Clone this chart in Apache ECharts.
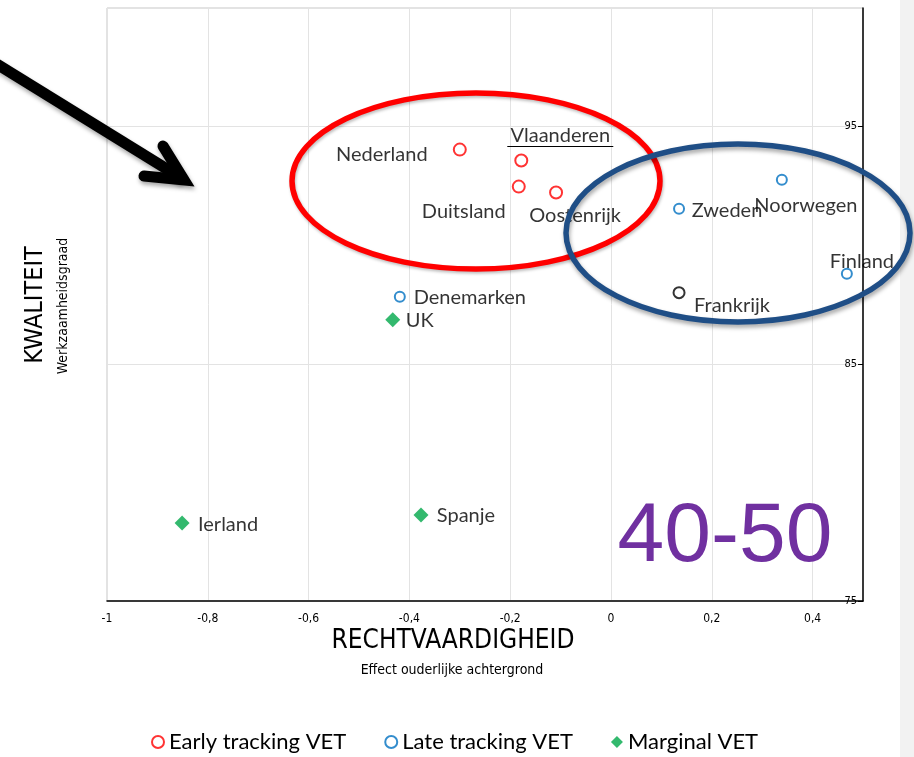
<!DOCTYPE html>
<html><head><meta charset="utf-8">
<script src="https://cdn.jsdelivr.net/npm/echarts@6/dist/echarts.min.js"></script>
<style>html,body{margin:0;padding:0;background:#fff}#c{width:914px;height:757px}</style>
</head><body><div id="c"></div>
<script>
// ---- data ----
const earlyNames = ['Nederland', 'Vlaanderen', 'Duitsland', 'Oostenrijk'];
const earlyX = [-0.30, -0.178, -0.183, -0.109];
const earlyY = [94.03, 93.57, 92.47, 92.22];

const lateNames = ['Zweden', 'Noorwegen', 'Finland', 'Denemarken'];
const lateX = [0.135, 0.339, 0.468, -0.419];
const lateY = [91.54, 92.76, 88.80, 87.83];

const otherNames = ['Frankrijk'];
const otherX = [0.135];
const otherY = [88.0];

const marginalNames = ['UK', 'Ierland', 'Spanje'];
const marginalX = [-0.433, -0.851, -0.377];
const marginalY = [86.86, 78.29, 78.63];

const seriesNames = ['Early tracking VET', 'Late tracking VET', 'Marginal VET'];

// ---- styling (label placement relative to each point) ----
const labelOffsets = {
  Nederland: [-78, 5], Vlaanderen: [39, -25], Duitsland: [-55, 25], Oostenrijk: [19, 23],
  Zweden: [48, 2], Noorwegen: [24, 26], Finland: [15, -12], Denemarken: [70, 1],
  Frankrijk: [53, 13], UK: [27, 1], Ierland: [46, 2], Spanje: [45, 1]
};
const FONT = 'Lato, "Open Sans", sans-serif';
const NARROW = '"Liberation Sans Narrow", "DejaVu Sans Condensed", sans-serif';

function build(names, xs, ys) {
  return names.map((n, i) => ({
    name: n, value: [xs[i], ys[i]],
    label: { offset: labelOffsets[n] }
  }));
}
const baseLabel = {
  show: true, position: 'inside', formatter: p => p.name,
  color: '#000', fontFamily: FONT, fontSize: 20, align: 'center', verticalAlign: 'middle'
};

const chart = echarts.init(document.getElementById('c'), null, { renderer: 'canvas' });
chart.setOption({
  animation: false,
  backgroundColor: '#fff',
  grid: { left: 107, right: 51, top: 8, bottom: 156, show: true, borderColor: '#c6c6c6', borderWidth: 1 },
  xAxis: {
    type: 'value', min: -1, max: 0.5, interval: 0.2,
    axisLine: { show: true, onZero: false, lineStyle: { color: '#000', width: 1.5 } },
    axisTick: { show: false },
    axisLabel: {
      showMaxLabel: false, margin: 12, fontSize: 12, color: '#000', fontFamily: NARROW,
      formatter: v => String(+v.toFixed(1)).replace('.', ',')
    },
    splitLine: { show: true, lineStyle: { color: '#e3e3e3', width: 1 } }
  },
  yAxis: {
    type: 'value', position: 'right', min: 75, max: 100, interval: 10,
    axisLine: { show: true, onZero: false, lineStyle: { color: '#000', width: 1.5 } },
    axisTick: { show: true, inside: true, length: 5, lineStyle: { color: '#000' } },
    axisLabel: { inside: true, showMaxLabel: false, fontSize: 11, color: '#000', fontFamily: NARROW, margin: 6 },
    splitLine: { show: true, lineStyle: { color: '#e3e3e3', width: 1 } }
  },
  legend: {
    data: seriesNames, left: 146, top: 726, itemGap: 38, itemWidth: 12, itemHeight: 12, itemGap2: 0,
    textStyle: { fontFamily: FONT, fontSize: 22, color: '#000' }
  },
  series: [
    { name: seriesNames[0], type: 'scatter', symbol: 'emptyCircle', symbolSize: 12,
      itemStyle: { color: '#ff0000', borderColor: '#ff0000', borderWidth: 3.2 },
      label: baseLabel, data: build(earlyNames, earlyX, earlyY), z: 3 },
    { name: seriesNames[1], type: 'scatter', symbol: 'emptyCircle', symbolSize: 10,
      itemStyle: { color: '#0070c0', borderColor: '#0070c0', borderWidth: 2.7 },
      label: baseLabel, data: build(lateNames, lateX, lateY), z: 3 },
    { name: seriesNames[2], type: 'scatter', symbol: 'diamond', symbolSize: 15,
      itemStyle: { color: '#00a84a', borderWidth: 0 },
      label: baseLabel, data: build(marginalNames, marginalX, marginalY), z: 3 },
    { name: 'Overig', type: 'scatter', symbol: 'emptyCircle', symbolSize: 11,
      itemStyle: { color: '#000', borderColor: '#000', borderWidth: 3 },
      label: baseLabel, data: build(otherNames, otherX, otherY), z: 3 }
  ]
});

// underline for Vlaanderen label, positioned from the axis scale
const vi = earlyNames.indexOf('Vlaanderen');
const vp = chart.convertToPixel({ seriesIndex: 0 }, [earlyX[vi], earlyY[vi]]);
const vo = labelOffsets.Vlaanderen;
const ux = vp[0] + vo[0], uy = vp[1] + vo[1] + 11;

chart.setOption({
  graphic: [
    // right gray strip
    { type: 'rect', left: 900, top: 0, shape: { width: 14, height: 757 }, style: { fill: '#f2f2f2' }, z: 0, silent: true },
    // axis titles
    { type: 'text', x: 453, y: 641, style: { text: 'RECHTVAARDIGHEID', fontFamily: NARROW, fontSize: 26, fill: '#000', align: 'center', verticalAlign: 'middle' } },
    { type: 'text', x: 452, y: 670, style: { text: 'Effect ouderlijke achtergrond', fontFamily: NARROW, fontSize: 14, fill: '#000', align: 'center', verticalAlign: 'middle' } },
    { type: 'text', x: 35, y: 305, rotation: Math.PI / 2, style: { text: 'KWALITEIT', fontFamily: NARROW, fontSize: 25, fill: '#000', align: 'center', verticalAlign: 'middle' } },
    { type: 'text', x: 63, y: 306, rotation: Math.PI / 2, style: { text: 'Werkzaamheidsgraad', fontFamily: NARROW, fontSize: 14, fill: '#000', align: 'center', verticalAlign: 'middle' } },
    // big period text
    { type: 'text', x: 725, y: 538, style: { text: '40-50', fontFamily: '"Liberation Sans", Arial, sans-serif', fontSize: 84, fill: '#7030a0', align: 'center', verticalAlign: 'middle' }, z: 5 },
    // underline
    { type: 'line', shape: { x1: ux - 53, y1: uy, x2: ux + 53, y2: uy }, style: { stroke: '#000', lineWidth: 1.2 }, z: 6 },
    // ellipses
    { type: 'ellipse', shape: { cx: 476, cy: 181, rx: 184, ry: 88 }, style: { fill: null, stroke: '#ff0000', lineWidth: 5.5, shadowBlur: 3, shadowColor: 'rgba(0,0,0,0.25)', shadowOffsetX: 1, shadowOffsetY: 2 }, z: 10 },
    { type: 'ellipse', shape: { cx: 738, cy: 233, rx: 172, ry: 89 }, style: { fill: null, stroke: '#1f4e86', lineWidth: 5.5, shadowBlur: 4, shadowColor: 'rgba(0,0,0,0.35)', shadowOffsetX: 1, shadowOffsetY: 3 }, z: 11 },
    // arrow
    { type: 'polyline', shape: { points: [[-5, 63], [183, 179]] }, style: { stroke: '#000', lineWidth: 11, lineCap: 'butt', shadowBlur: 4, shadowColor: 'rgba(0,0,0,0.35)', shadowOffsetX: 1, shadowOffsetY: 3 }, z: 12 },
    { type: 'polyline', shape: { points: [[163, 146], [184, 180], [144, 176]] }, style: { stroke: '#000', lineWidth: 11, lineCap: 'round', lineJoin: 'miter', shadowBlur: 4, shadowColor: 'rgba(0,0,0,0.35)', shadowOffsetX: 1, shadowOffsetY: 3 }, z: 12 }
  ]
});
</script></body></html>
